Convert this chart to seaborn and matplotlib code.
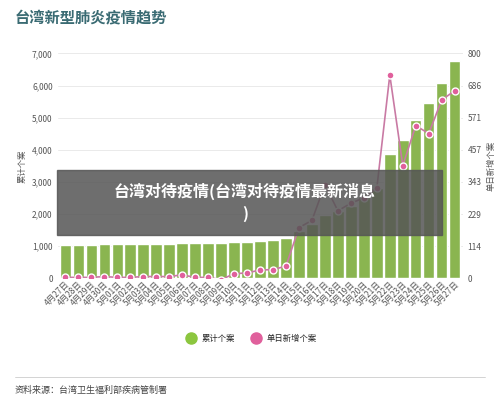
import matplotlib
matplotlib.use("Agg")
import matplotlib.pyplot as plt
import seaborn as sns
import pandas as pd
from matplotlib.lines import Line2D

sns.set_theme(style="white")
plt.rcParams['font.family'] = ['Noto Sans CJK SC', 'DejaVu Sans']

dates = ["4月27日","4月28日","4月29日","4月30日","5月01日","5月02日","5月03日","5月04日","5月05日","5月06日",
         "5月07日","5月08日","5月09日","5月10日","5月11日","5月12日","5月13日","5月14日","5月15日","5月16日",
         "5月17日","5月18日","5月19日","5月20日","5月21日","5月22日","5月23日","5月24日","5月25日","5月26日","5月27日"]
cumulative = [1040,1045,1050,1055,1060,1065,1070,1075,1080,1100,1105,1110,1110,1125,1135,1160,1190,1260,
              1480,1680,1960,2100,2260,2530,2810,3860,4320,4920,5450,6090,6760]
daily = [3,3,3,6,3,3,6,6,6,12,3,3,-5,16,19,29,31,43,
         180,206,333,240,267,286,321,723,401,543,515,635,667]
right_ticks = [0,114,229,343,457,571,686,800]

df = pd.DataFrame({"date": dates, "cum": cumulative, "daily": daily})

fig = plt.figure(figsize=(5, 4.05), dpi=100)
ax = fig.add_axes([0.115, 0.313, 0.81, 0.555])
sns.barplot(data=df, x="date", y="cum", color="#8cc63f", width=0.88, ax=ax)
ax.set_ylim(0, 7000)
ax.set_yticks(range(0, 7001, 1000))
ax.set_yticklabels([f"{v:,}" for v in range(0, 7001, 1000)], fontsize=6, color="#555")
ax.yaxis.grid(True, color="#e6e6e6", lw=0.6)
ax.set_axisbelow(True)
ax.set_xlabel("")
ax.set_ylabel("累计个案", fontsize=6, color="#555")
ax.tick_params(axis="x", labelsize=6, rotation=45, colors="#555", length=0, pad=1)
for l in ax.get_xticklabels():
    l.set_ha("right"); l.set_rotation_mode("anchor")
ax.tick_params(axis="y", length=0)
for s in ax.spines.values():
    s.set_visible(False)

ax2 = ax.twinx()
sns.lineplot(x=list(range(len(dates))), y=daily, color="#c97aa4", lw=1.2, marker="o", ms=5,
             markerfacecolor="#e0609c", markeredgecolor="white", markeredgewidth=1, ax=ax2)
ax2.set_ylim(0, 800)
ax2.set_yticks([i*800/7 for i in range(len(right_ticks))])
ax2.set_yticklabels([str(v) for v in right_ticks], fontsize=6, color="#555")
ax2.set_ylabel("单日新增个案", fontsize=6, color="#555")
ax2.tick_params(axis="y", length=0)
for s in ax2.spines.values():
    s.set_visible(False)
ax.set_xlim(-0.6, len(dates)-0.4)

h = [Line2D([], [], marker="o", ls="", ms=8, color="#8cc63f"),
     Line2D([], [], marker="o", ls="", ms=8, color="#e0609c")]
fig.legend(h, ["累计个案", "单日新增个案"], loc="center", bbox_to_anchor=(0.5, 0.165),
           ncol=2, frameon=False, fontsize=6, handletextpad=0.3, columnspacing=1.5)

fig.text(0.03, 0.955, "台湾新型肺炎疫情趋势", fontsize=11, fontweight="bold", color="#3a6b73", va="center")
fig.text(0.03, 0.035, "资料来源：台湾卫生福利部疾病管制署", fontsize=6.5, color="#444", va="center")
fig.lines.append(Line2D([0.03, 0.97], [0.07, 0.07], transform=fig.transFigure, color="#ccc", lw=0.6))

fig.patches.append(plt.Rectangle((0.114, 0.42), 0.77, 0.16, transform=fig.transFigure,
                                 color="#555555", alpha=0.85, zorder=10))
fig.text(0.49, 0.5, "台湾对待疫情(台湾对待疫情最新消息\n)", fontsize=11.5, fontweight="bold",
         color="white", ha="center", va="center", zorder=11, linespacing=1.4)

fig.savefig("out.png", dpi=100, facecolor="white")
